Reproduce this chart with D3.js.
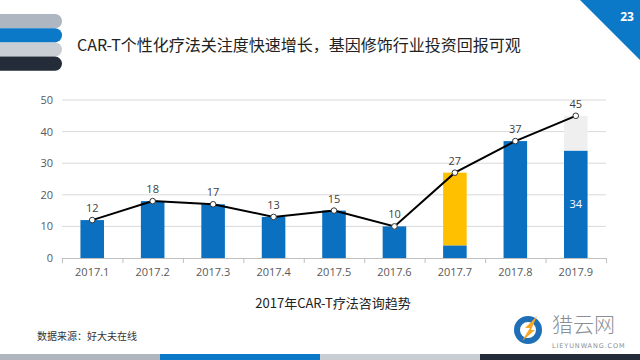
<!DOCTYPE html>
<html><head><meta charset="utf-8">
<script src="https://cdn.jsdelivr.net/npm/d3@7/dist/d3.min.js"></script>
<style>body{margin:0;background:#fff;}svg{display:block;font-family:"Noto Sans CJK SC","Open Sans",sans-serif;}</style>
</head><body>
<svg id="c" width="640" height="360"></svg>
<script>
const categories = ['2017.1','2017.2','2017.3','2017.4','2017.5','2017.6','2017.7','2017.8','2017.9'];
const totals = [12,18,17,13,15,10,27,37,45];
const blueVals = [12,18,17,13,15,10,4,37,34];
const yellowVals = [0,0,0,0,0,0,23,0,0];
const grayVals = [0,0,0,0,0,0,0,0,11];
const yTicks = [0,10,20,30,40,50];
const insideLabels = ['', '', '', '', '', '', '', '', '34'];

const svg = d3.select('#c');
// decorations
const stripeColors = ['#aeb6c1','#0b78c8','#c9cdd4','#232c38'];
stripeColors.forEach((c,i)=>{
  svg.append('rect').attr('x',-20).attr('y',14+i*14.2).attr('width',82).attr('height',14.2)
    .attr('rx',7).attr('fill',c);
});
svg.append('path').attr('d','M580,0L640,0L640,60Z').attr('fill','#0b78c8');
svg.append('text').attr('x',627).attr('y',21).attr('text-anchor','middle').attr('fill','#fff')
  .attr('font-size',12).attr('font-weight','bold').attr('font-family','Open Sans, sans-serif').text('23');
svg.append('text').attr('x',77).attr('y',51).attr('font-size',16).attr('fill','#222')
  .text('CAR-T个性化疗法关注度快速增长，基因修饰行业投资回报可观');
const bottomColors = ['#b0b6be','#0b78c8','#c9cdd4','#232c38'];
bottomColors.forEach((c,i)=>{
  svg.append('rect').attr('x',i*160).attr('y',354).attr('width',160).attr('height',6).attr('fill',c);
});

// chart
const x = d3.scaleBand().domain(categories).range([62,606]).paddingInner(0.61).paddingOuter(0.305);
const xb = d3.scaleBand().domain(categories).range([62,606]);
const y = d3.scaleLinear().domain([0,50]).range([258,100]);
const g = svg.append('g');
g.selectAll('.grid').data(yTicks.slice(1)).join('line')
  .attr('x1',62).attr('x2',606).attr('y1',d=>y(d)).attr('y2',d=>y(d))
  .attr('stroke','#d9d9d9').attr('stroke-width',1);
g.selectAll('.yl').data(yTicks).join('text')
  .attr('x',53).attr('y',d=>y(d)+4).attr('text-anchor','end').attr('font-size',11)
  .attr('fill','#595959').attr('font-family','Open Sans, sans-serif').text(d=>d);

const stack = categories.map((c,i)=>({c, b:blueVals[i], yv:yellowVals[i], g:grayVals[i]}));
g.selectAll('.bb').data(stack).join('rect').attr('x',d=>x(d.c)).attr('width',x.bandwidth())
  .attr('y',d=>y(d.b)).attr('height',d=>y(0)-y(d.b)).attr('fill','#0b70c0');
g.selectAll('.by').data(stack.filter(d=>d.yv>0)).join('rect').attr('x',d=>x(d.c)).attr('width',x.bandwidth())
  .attr('y',d=>y(d.b+d.yv)).attr('height',d=>y(d.b)-y(d.b+d.yv)).attr('fill','#ffc000');
g.selectAll('.bg').data(stack.filter(d=>d.g>0)).join('rect').attr('x',d=>x(d.c)).attr('width',x.bandwidth())
  .attr('y',d=>y(d.b+d.yv+d.g)).attr('height',d=>y(d.b+d.yv)-y(d.b+d.yv+d.g)).attr('fill','#efefef');

// axis
g.append('line').attr('x1',62).attr('x2',606).attr('y1',258.5).attr('y2',258.5).attr('stroke','#bfbfbf');
const bounds = categories.map(c=>xb(c)).concat([606]);
g.selectAll('.tk').data(bounds).join('line').attr('x1',d=>d+0.5).attr('x2',d=>d+0.5)
  .attr('y1',258).attr('y2',263).attr('stroke','#bfbfbf');
g.selectAll('.xl').data(categories).join('text').attr('x',d=>xb(d)+xb.bandwidth()/2).attr('y',276)
  .attr('text-anchor','middle').attr('font-size',11).attr('fill','#595959')
  .attr('font-family','Open Sans, sans-serif').text(d=>d);

// line
const cx = c=>xb(c)+xb.bandwidth()/2;
const line = d3.line().x((d,i)=>cx(categories[i])).y(d=>y(d));
g.append('path').attr('d',line(totals)).attr('fill','none').attr('stroke','#000').attr('stroke-width',2);
g.selectAll('.pt').data(totals).join('circle').attr('cx',(d,i)=>cx(categories[i])).attr('cy',d=>y(d))
  .attr('r',2.8).attr('fill','#fff').attr('stroke','#333').attr('stroke-width',1);
g.selectAll('.dl').data(totals).join('text').attr('x',(d,i)=>cx(categories[i])).attr('y',d=>y(d)-8)
  .attr('text-anchor','middle').attr('font-size',11).attr('fill','#404040')
  .attr('font-family','Open Sans, sans-serif').text(d=>d);
g.selectAll('.il').data(categories.map((c,i)=>({c,l:insideLabels[i],v:blueVals[i]})).filter(d=>d.l))
  .join('text').attr('x',d=>cx(d.c)).attr('y',d=>y(d.v/2)+4).attr('text-anchor','middle')
  .attr('font-size',11).attr('fill','#fff').attr('font-family','Open Sans, sans-serif').text(d=>d.l);

svg.append('text').attr('x',333).attr('y',308).attr('text-anchor','middle').attr('font-size',13)
  .attr('fill','#222').text('2017年CAR-T疗法咨询趋势');
svg.append('text').attr('x',37).attr('y',340).attr('font-size',10).attr('fill','#333')
  .text('数据来源：好大夫在线');

// logo
const lg = svg.append('g');
lg.append('circle').attr('cx',528).attr('cy',330).attr('r',11).attr('fill','none').attr('stroke','#1f6fb8').attr('stroke-width',6);
lg.append('path').attr('d','M522,341L530,328L525,328L537,316L531,330L535,330Z').attr('fill','#f5a623');
lg.append('text').attr('x',552).attr('y',332).attr('font-size',21).attr('font-weight',300).attr('fill','#8a8f96').text('猎云网');
lg.append('text').attr('x',552).attr('y',348).attr('font-size',6.5).attr('fill','#8a8f96')
  .attr('font-family','DejaVu Sans, sans-serif').attr('letter-spacing',0.9).text('LIEYUNWANG.COM');
</script>
</body></html>
